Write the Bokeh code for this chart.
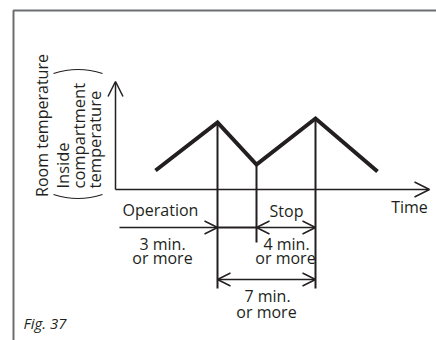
import math
from bokeh.plotting import figure
from bokeh.models import Range1d, Arrow, OpenHead
from bokeh.core.properties import value
from bokeh.embed import file_html
from bokeh.resources import INLINE

# ---- data (schematic units: time along x, temperature along y) ----
curve_time = [4.0, 10.2, 14.1, 20.0, 26.2]
curve_temp = [1.9, 6.7, 2.5, 7.1, 1.8]

marker_time = [10.2, 14.1, 20.0]          # compressor stop / restart / stop
marker_top = [6.7, 2.5, 7.1]
marker_bottom = [-9.9, -5.3, -9.9]

interval_level = -3.8                      # Operation / Stop arrows
operation_start = 0.4
seven_level = -9.0                         # 7 min. arrow

labels = ["Operation", "3 min.", "or more", "Stop", "4 min.", "or more",
          "7 min.", "or more", "Time"]
label_time = [4.5, 4.7, 4.7, 17.1, 17.1, 17.0, 15.2, 15.1, 29.4]
label_temp = [-2.0, -5.4, -6.8, -2.1, -5.4, -6.8, -10.6, -12.2, -1.7]

axis_x_end = 31.4
axis_y_end = 10.8

FONT = "Open Sans"
BLACK = "#231f20"
GREY = "#6d6e71"

p = figure(width=436, height=340, output_backend="svg", toolbar_location=None,
           x_range=Range1d(-11.5, 32.1), y_range=Range1d(-15.1, 18.9),
           min_border=0, outline_line_color=None)
p.axis.visible = False
p.grid.visible = False
p.background_fill_color = "white"
p.border_fill_color = "white"

# frame (open box at top-left)
p.line([-10.2, -10.2, 32.1], [-15.1, 17.9, 17.9], line_color=GREY, line_width=2)

# axes with arrowheads
p.add_layout(Arrow(x_start=0, y_start=0, x_end=axis_x_end, y_end=0,
                   line_color=BLACK, line_width=1.5,
                   end=OpenHead(size=15, line_color=BLACK, line_width=1.5)))
p.add_layout(Arrow(x_start=0, y_start=0, x_end=0, y_end=axis_y_end,
                   line_color=BLACK, line_width=1.5,
                   end=OpenHead(size=15, line_color=BLACK, line_width=1.5)))

# vertical markers
p.segment(x0=marker_time, y0=marker_top, x1=marker_time, y1=marker_bottom,
          line_color=BLACK, line_width=2)

# temperature curve
p.line(curve_time, curve_temp, line_color=BLACK, line_width=4, line_join="miter")

# interval arrows
p.add_layout(Arrow(x_start=operation_start, y_start=interval_level,
                   x_end=marker_time[0], y_end=interval_level,
                   line_color=BLACK, line_width=1.5,
                   end=OpenHead(size=13, line_color=BLACK, line_width=1.5)))
p.segment(x0=[marker_time[0]], y0=[interval_level], x1=[marker_time[1]], y1=[interval_level],
          line_color=BLACK, line_width=2)
p.add_layout(Arrow(x_start=marker_time[1], y_start=interval_level,
                   x_end=marker_time[2], y_end=interval_level,
                   line_color=BLACK, line_width=1.5,
                   start=OpenHead(size=13, line_color=BLACK, line_width=1.5),
                   end=OpenHead(size=13, line_color=BLACK, line_width=1.5)))
p.add_layout(Arrow(x_start=marker_time[0], y_start=seven_level,
                   x_end=marker_time[2], y_end=seven_level,
                   line_color=BLACK, line_width=1.5,
                   start=OpenHead(size=13, line_color=BLACK, line_width=1.5),
                   end=OpenHead(size=13, line_color=BLACK, line_width=1.5)))

# labels
p.text(x=label_time, y=label_temp, text=labels, text_font=value(FONT),
       text_font_size="16px", text_color=BLACK, text_align="center",
       text_baseline="middle")

# figure number
p.text(x=[-9.2], y=[-13.3], text=["Fig. 37"], text_font=value(FONT),
       text_font_size="15px", text_font_style="italic", text_color=BLACK,
       text_align="left", text_baseline="middle")

# y-axis title (rotated)
p.text(x=[-7.4], y=[6.4], text=["Room temperature"], angle=math.pi / 2,
       text_font=value(FONT), text_font_size="16px", text_color=BLACK,
       text_align="center", text_baseline="middle")
sub_lines = ["Inside", "compartment", "temperature"]
sub_x = [-5.3, -3.7, -2.1]
p.text(x=sub_x, y=[0.1] * 3, text=sub_lines, angle=math.pi / 2,
       text_font=value(FONT), text_font_size="16.5px", text_color=BLACK,
       text_align="left", text_baseline="middle")
# parentheses around the sub-title
p.quadratic(x0=[-6.2, -6.2], y0=[11.6, -0.5], x1=[-1.3, -1.3], y1=[11.6, -0.5],
            cx=[-3.75, -3.75], cy=[12.4, -1.3], line_color=BLACK, line_width=1.2)

open("out.html", "w").write(file_html(p, INLINE))
